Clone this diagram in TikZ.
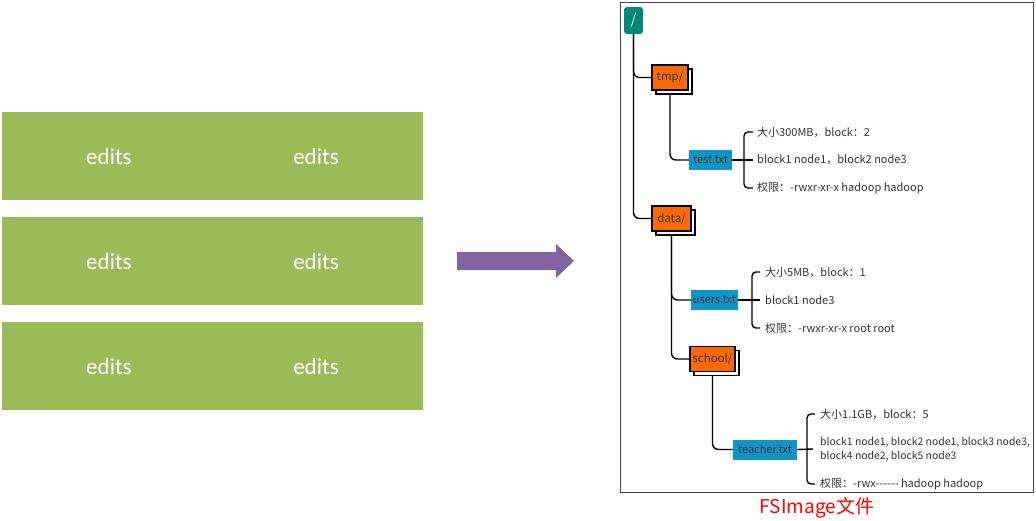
\documentclass[tikz,border=0pt]{standalone}
\usepackage{fontspec}
\setmainfont{Carlito}
\newfontfamily\cjk{Noto Sans CJK SC}
\usetikzlibrary{shadows,backgrounds}
\definecolor{editgreen}{HTML}{9BBB59}
\definecolor{arrowpurple}{HTML}{8064A2}
\definecolor{rootteal}{HTML}{00897A}
\definecolor{folderorange}{HTML}{FA6A00}
\definecolor{fileblue}{HTML}{1096C6}
\definecolor{txtgray}{HTML}{333333}
\tikzset{
  editbox/.style={fill=editgreen, draw=none, minimum width=421pt, minimum height=88pt, inner sep=0pt},
  edittext/.style={text=white, font=\fontsize{23}{26}\selectfont},
  rootbox/.style={fill=rootteal, draw=none, rounded corners=3pt, minimum width=19pt, minimum height=27pt, inner sep=0pt, text=white, font=\cjk\fontsize{14}{16}\selectfont},
  folderbox/.style={fill=folderorange, draw=black, line width=1.2pt, inner sep=0pt, minimum height=25pt, text=txtgray, font=\cjk\fontsize{11.5}{13}\selectfont,
     copy shadow={shadow xshift=4pt, shadow yshift=-4pt, fill=white, draw=black, line width=1.2pt}},
  filebox/.style={fill=fileblue, draw=none, inner sep=0pt, minimum height=20pt, text=txtgray, font=\cjk\fontsize{11}{13}\selectfont},
  info/.style={anchor=west, inner sep=0pt, text=txtgray, font=\cjk\fontsize{11}{14}\selectfont, align=left},
  conn/.style={draw=black, line width=1.4pt, rounded corners=6pt},
  brk/.style={draw=black, line width=1.4pt, rounded corners=4pt}
}
\begin{document}
\begin{tikzpicture}[x=1pt,y=-1pt]
\useasboundingbox (0,0) rectangle (1036,520);
% left edit boxes
\node[editbox] (e1) at (212.5,156) {};
\node[editbox] (e2) at (212.5,261) {};
\node[editbox] (e3) at (212.5,366) {};
\node[edittext] (e1a) at (109,157) {edits};
\node[edittext] (e1b) at (316,157) {edits};
\node[edittext] (e2a) at (109,262) {edits};
\node[edittext] (e2b) at (316,262) {edits};
\node[edittext] (e3a) at (109,367) {edits};
\node[edittext] (e3b) at (316,367) {edits};
% big arrow
\fill[arrowpurple] (457,252) -- (556,252) -- (556,244) -- (574,261) -- (556,278) -- (556,270) -- (457,270) -- cycle;
% frame
\draw[draw=black!75, line width=1pt] (620,2.5) rectangle (1033,492);
% tree nodes
\node[rootbox] (root) at (633.5,20.5) {/};
\node[folderbox, minimum width=36pt] (tmp) at (670,77.5) {tmp/};
\node[filebox, minimum width=43pt] (test) at (710.5,160) {test.txt};
\node[folderbox, minimum width=39pt] (data) at (671.5,218.5) {data/};
\node[filebox, minimum width=47pt] (users) at (714.5,300) {users.txt};
\node[folderbox, minimum width=45pt] (school) at (712.5,359) {school/};
\node[filebox, minimum width=64pt] (teacher) at (765,449.5) {teacher.txt};
% file corner notches
\fill[white] ([xshift=-3pt]test.north east) rectangle ([yshift=2pt]test.north east);
\fill[white] ([xshift=-3pt]users.north east) rectangle ([yshift=2pt]users.north east);
\fill[white] ([xshift=-3pt]teacher.north east) rectangle ([yshift=2pt]teacher.north east);
% info texts
\node[info] (ta) at (757,132) {大小300MB，block：2};
\node[info] (tb) at (757,160) {block1 node1，block2 node3};
\node[info] (tc) at (757,188) {权限：-rwxr-xr-x hadoop hadoop};
\node[info] (ua) at (765,272) {大小5MB，block：1};
\node[info] (ub) at (765,300) {block1 node3};
\node[info] (uc) at (765,328) {权限：-rwxr-xr-x root root};
\node[info] (ha) at (820,414) {大小1.1GB，block：5};
\node[info, font=\cjk\fontsize{10.4}{14}\selectfont] (hb) at (820,449) {block1 node1, block2 node1, block3 node3,\\block4 node2, block5 node3};
\node[info] (hc) at (820,484) {权限：-rwx------ hadoop hadoop};
% caption
\node[text=red, font=\cjk\fontsize{19}{21}\selectfont, inner sep=0pt] (cap) at (817,508) {FSImage文件};
% connectors
\begin{scope}[on background layer]
\draw[conn] (root.south) |- (tmp.west);
\draw[conn] (root.south) |- (data.west);
\draw[conn] (tmp.south) |- (test.west);
\draw[conn] (data.south) |- (users.west);
\draw[conn] (data.south) |- (school.west);
\draw[conn] (school.south) |- (teacher.west);
\end{scope}
\coordinate (bt) at (744,160);
\coordinate (bu) at (752,300);
\coordinate (bh) at (807,449.5);
\draw[brk] ([xshift=-4pt]ta.west) -| (bt) |- ([xshift=-4pt]tc.west);
\draw[brk] (test.east) -- ([xshift=-4pt]tb.west);
\draw[brk] ([xshift=-5pt]ua.west) -| (bu) |- ([xshift=-5pt]uc.west);
\draw[brk] (users.east) -- ([xshift=-5pt]ub.west);
\draw[brk] ([xshift=-5pt]ha.west) -| (bh) |- ([xshift=-5pt]hc.west);
\draw[brk] (teacher.east) -- ([xshift=-7pt]hb.west);
\end{tikzpicture}
\end{document}
